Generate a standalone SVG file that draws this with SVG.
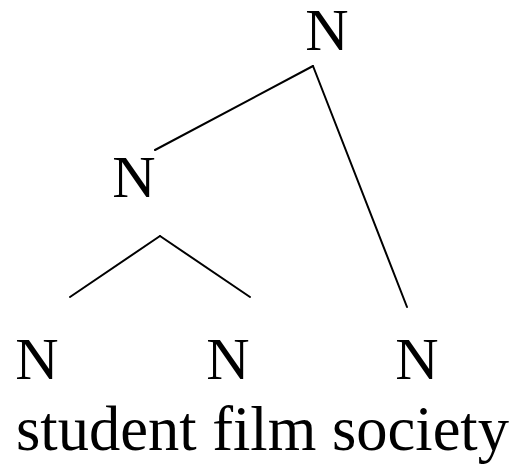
<svg xmlns="http://www.w3.org/2000/svg" width="526" height="467" viewBox="0 0 526 467">
<style>
text{font-family:"Liberation Serif","Times New Roman",serif;fill:#000}
.lbl{font-size:60px;text-anchor:middle}
.word{font-size:62.5px}
.edge{stroke:#000;stroke-width:2;fill:none;stroke-linecap:round}
</style>
<rect width="526" height="467" fill="#fff"/>
<g id="connectors">
<line class="edge" x1="313" y1="66" x2="155" y2="150"/>
<line class="edge" x1="313" y1="66" x2="407" y2="307"/>
<line class="edge" x1="160" y1="236" x2="70" y2="297"/>
<line class="edge" x1="160" y1="236" x2="250" y2="297"/>
</g>
<g id="n-root"><text class="lbl" x="327" y="50">N</text></g>
<g id="n-left"><text class="lbl" x="134" y="197">N</text></g>
<g id="n-student"><text class="lbl" x="37" y="379">N</text></g>
<g id="n-film"><text class="lbl" x="228" y="379">N</text></g>
<g id="n-society"><text class="lbl" x="417" y="379">N</text></g>
<g id="words"><text class="word" x="16" y="450">student film society</text></g>
</svg>
